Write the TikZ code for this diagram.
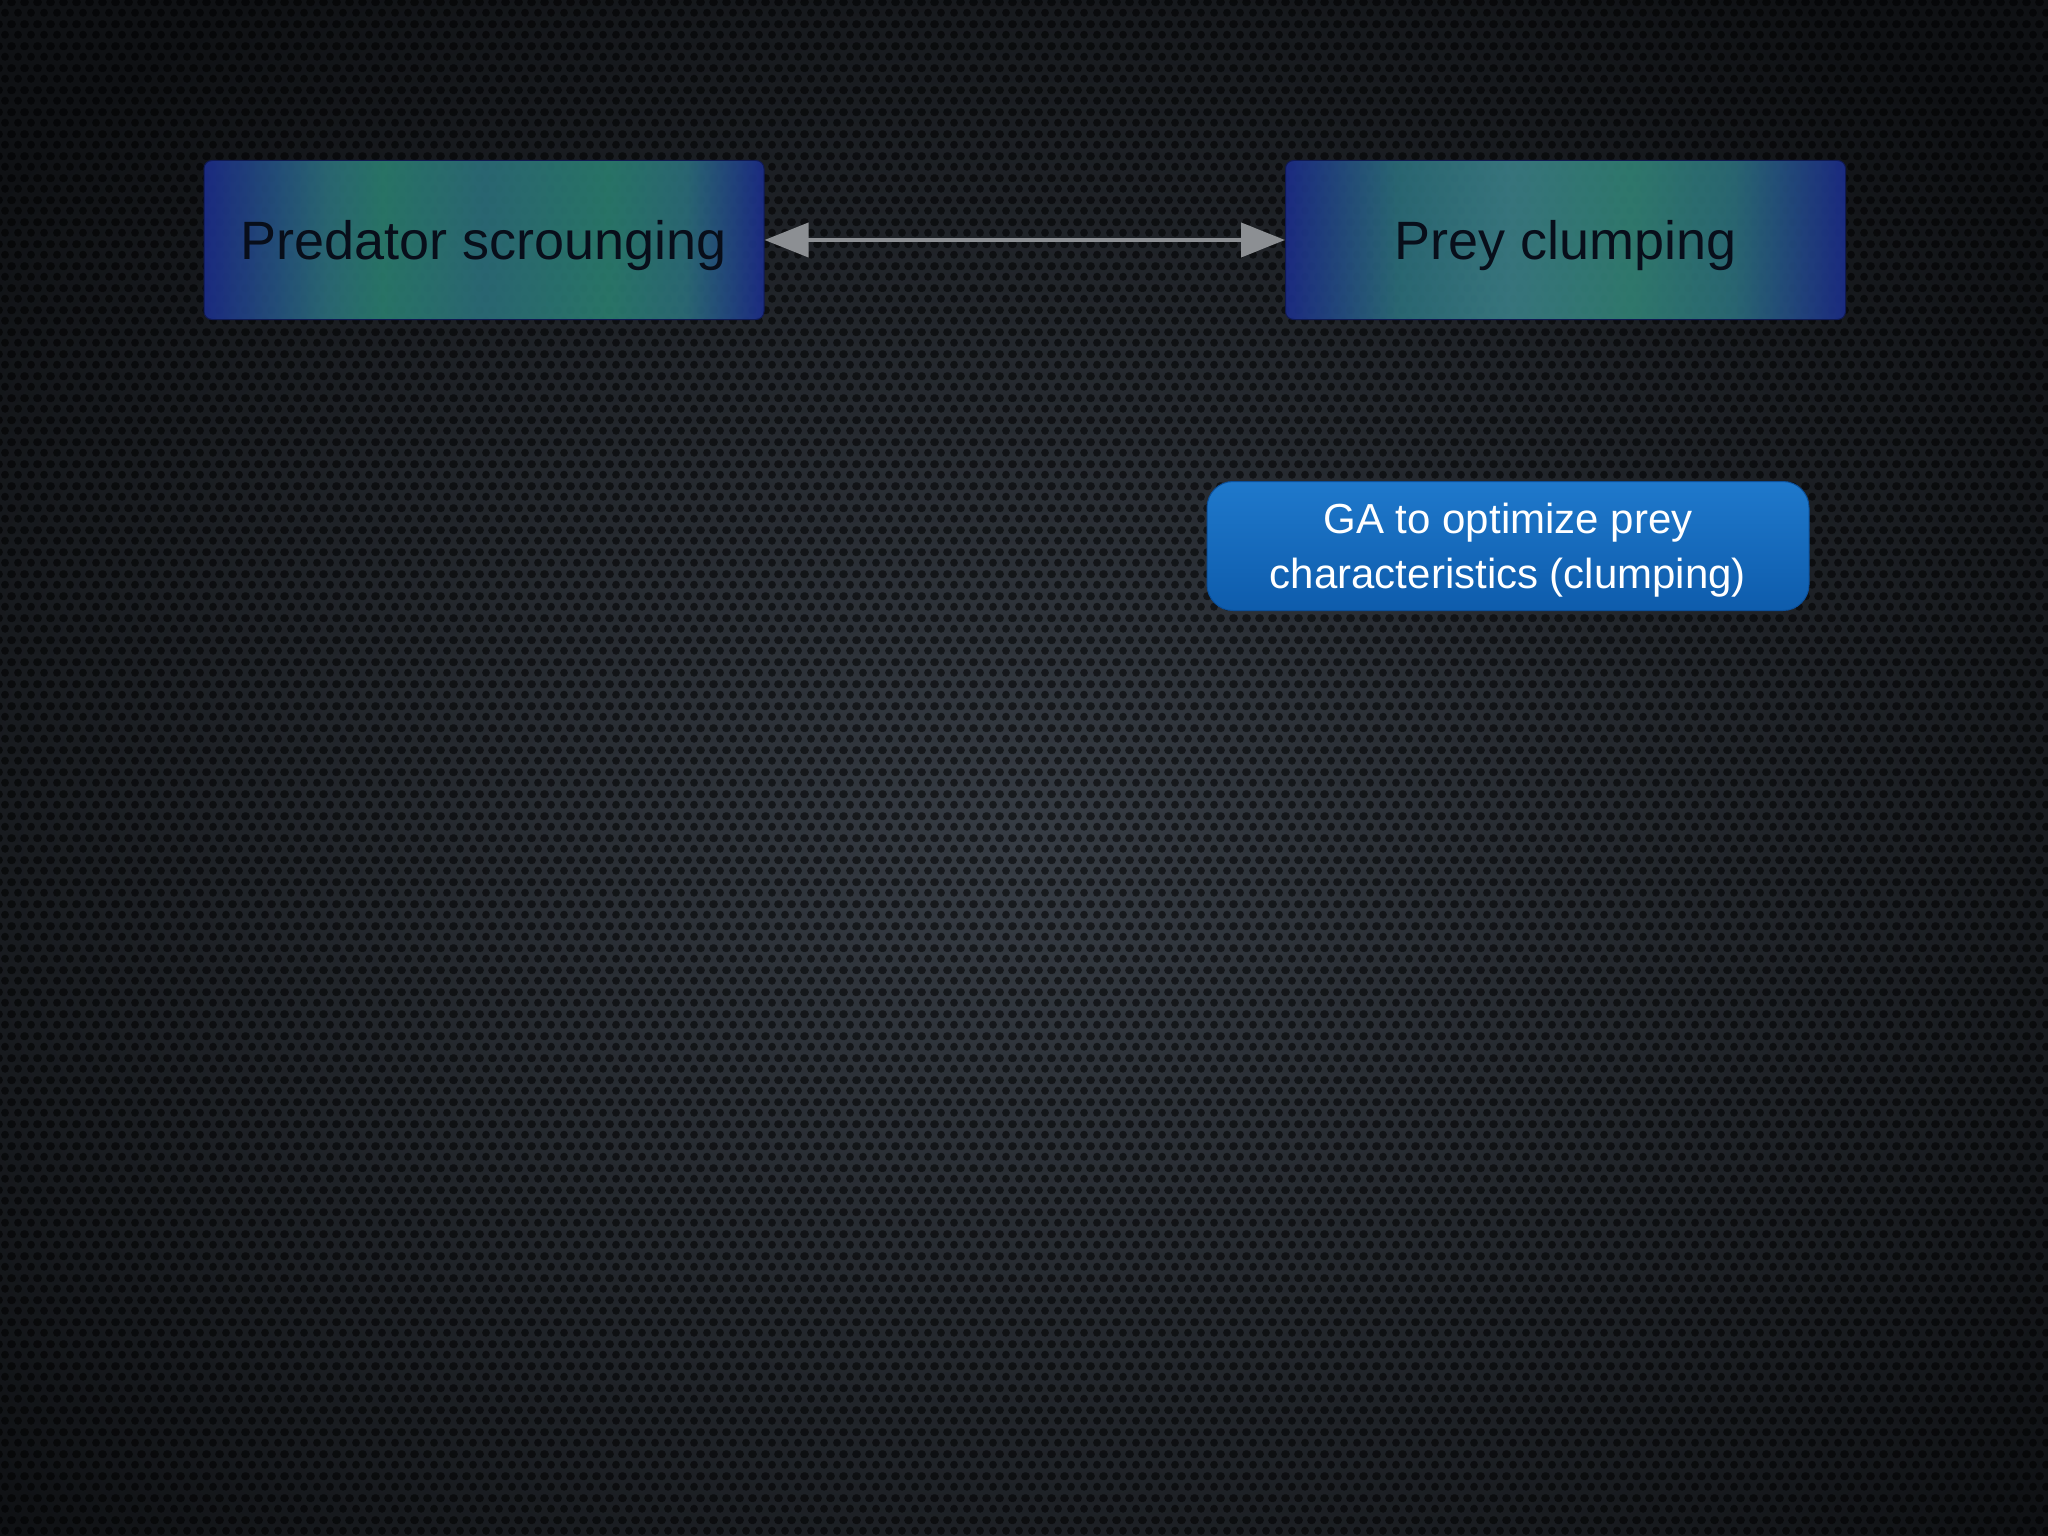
\documentclass[tikz,border=0pt]{standalone}
\usepackage{fontspec}
\setmainfont{Liberation Sans}
\usetikzlibrary{arrows.meta,patterns.meta}
\definecolor{bgmid}{HTML}{363C44}
\definecolor{bgdark}{HTML}{0F1114}
\definecolor{boxblue}{HTML}{1B2C88}
\definecolor{boxgreen}{HTML}{2A7B6C}
\definecolor{boxmidp}{HTML}{2B6C78}
\definecolor{boxteal}{HTML}{3A7C84}
\definecolor{boxtealg}{HTML}{317F72}
\definecolor{boxtext}{HTML}{080E1A}
\definecolor{gatop}{HTML}{1F79CC}
\definecolor{gabot}{HTML}{0E5CAC}
\definecolor{gaborder}{HTML}{0B4F9A}
\definecolor{arrowgray}{HTML}{8C8F93}
\pgfdeclarehorizontalshading{predshade}{100bp}{color(0bp)=(boxblue); color(25bp)=(boxblue); color(36bp)=(boxmidp); color(41bp)=(boxgreen); color(50bp)=(boxmidp); color(61bp)=(boxgreen); color(68bp)=(boxmidp); color(75bp)=(boxblue); color(100bp)=(boxblue)}
\pgfdeclarehorizontalshading{preyshade}{100bp}{color(0bp)=(boxblue); color(25bp)=(boxblue); color(35bp)=(boxmidp); color(45bp)=(boxteal); color(56bp)=(boxtealg); color(65bp)=(boxmidp); color(75bp)=(boxblue); color(100bp)=(boxblue)}
\tikzdeclarepattern{name=holes, type=uncolored,
  bounding box={(0pt,0pt) and (13pt,22pt)},
  tile size={(13pt,22pt)},
  code={\fill (6.5pt,5.5pt) circle (4.2pt);
        \fill (0pt,16.5pt) circle (4.2pt);
        \fill (13pt,16.5pt) circle (4.2pt);}}
\tikzset{
  topicbox/.style={rectangle, rounded corners=8pt, minimum width=560pt,
    minimum height=159pt, inner sep=0pt, draw=boxblue!60!black, line width=1pt,
    text=boxtext, text depth=0pt, font=\fontsize{54}{64}\selectfont,
    fill opacity=0.92, text opacity=1},
  gabox/.style={rectangle, rounded corners=26pt, minimum width=602pt,
    minimum height=129pt, inner sep=0pt, draw=gaborder, line width=1pt,
    top color=gatop, bottom color=gabot, text=white, align=center,
    text depth=0pt, font=\fontsize{42}{55}\selectfont},
  link/.style={draw=arrowgray, line width=4pt,
    {Triangle[length=44pt,width=34pt]}-{Triangle[length=44pt,width=34pt]}}
}
\begin{document}
\begin{tikzpicture}[x=1pt,y=-1pt]
\useasboundingbox (0,0) rectangle (2048,1536);
\shade[inner color=bgmid, outer color=bgdark] (-300,-200) rectangle (2348,1900);
\fill[pattern={holes}, pattern color=black, opacity=0.55] (0,0) rectangle (2048,1536);
\node[topicbox, shading=predshade] (pred) at (484,240) {Predator scrounging};
\node[topicbox, shading=preyshade] (prey) at (1565.5,240) {Prey clumping};
\node[gabox] (ga) at (1508,546) {GA to optimize prey\\characteristics (clumping)};
\draw[link] (pred.east) -- (prey.west);
\end{tikzpicture}
\end{document}
